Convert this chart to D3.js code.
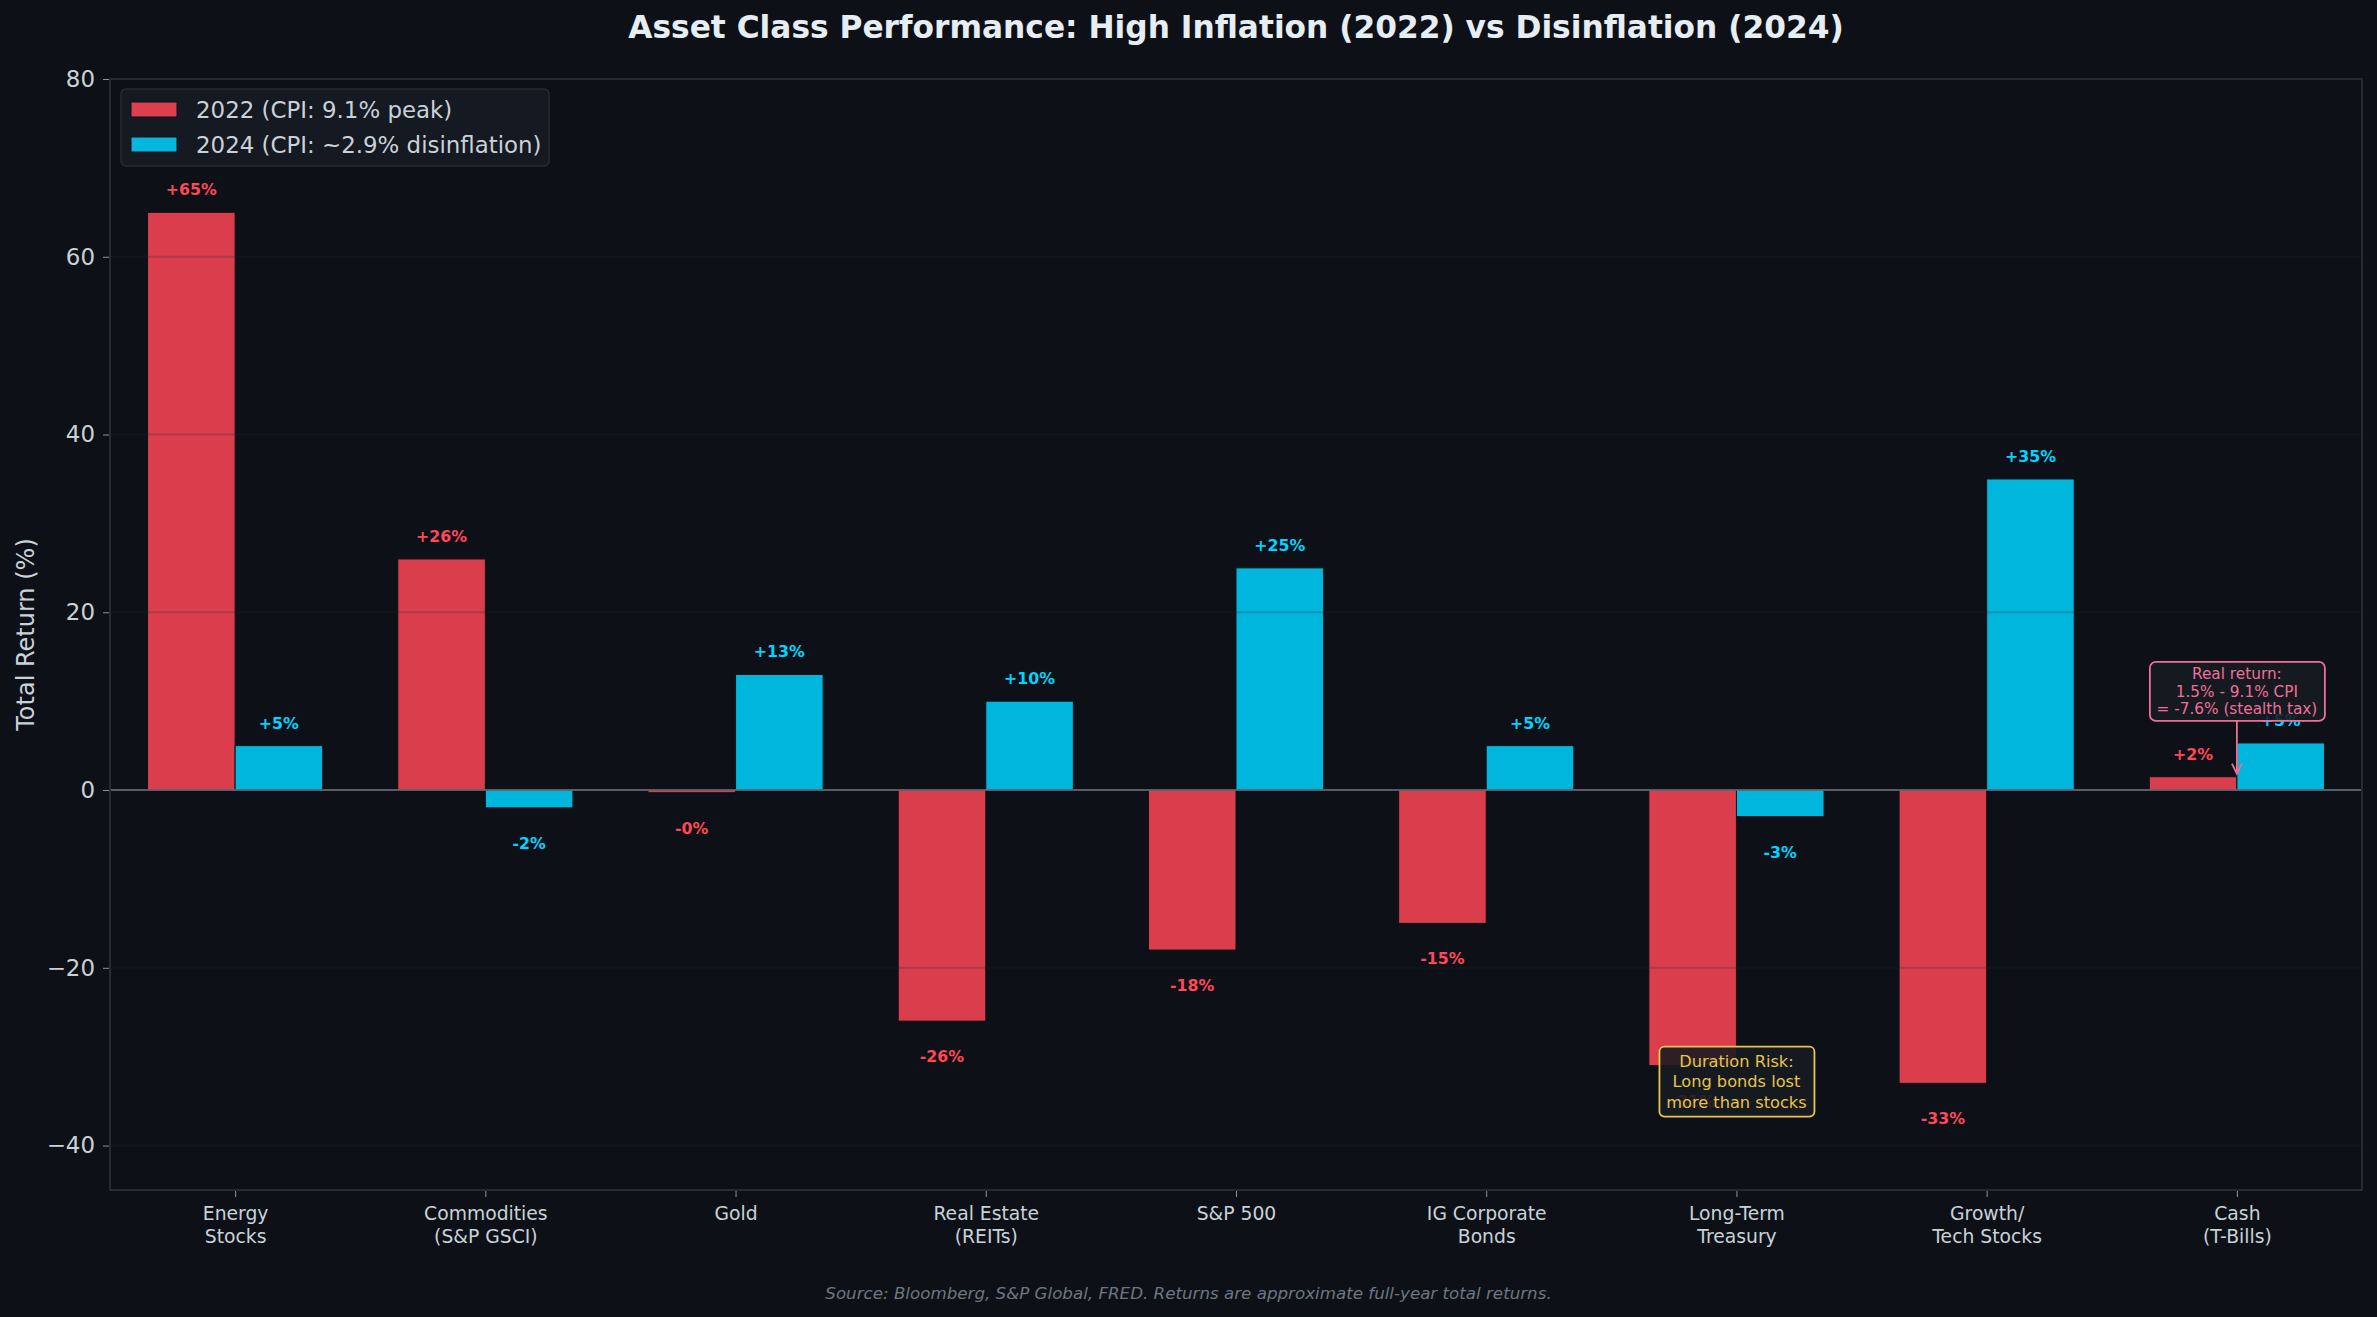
<!DOCTYPE html>
<html>
<head>
<meta charset="utf-8">
<script src="https://cdn.jsdelivr.net/npm/d3@7"></script>
<style>
  html, body { margin: 0; padding: 0; background: #0d1117; }
  svg { display: block; }
  text { font-family: "DejaVu Sans", sans-serif; }
</style>
</head>
<body>
<svg></svg>
<script>
// data
var categories = [
  ["Energy", "Stocks"],
  ["Commodities", "(S&P GSCI)"],
  ["Gold"],
  ["Real Estate", "(REITs)"],
  ["S&P 500"],
  ["IG Corporate", "Bonds"],
  ["Long-Term", "Treasury"],
  ["Growth/", "Tech Stocks"],
  ["Cash", "(T-Bills)"]
];
var returns2022 = [65, 26, -0.3, -26, -18, -15, -31, -33, 1.5];
var returns2024 = [5, -2, 13, 10, 25, 5, -3, 35, 5.3];
var seriesNames = ["2022 (CPI: 9.1% peak)", "2024 (CPI: ~2.9% disinflation)"];
var yTicks = [-40, -20, 0, 20, 40, 60, 80];

var colors = ["#ff4757", "#00d4ff"];

// set the dimensions and margins of the graph
var W = 2377, H = 1317;
var margin = {top: 79, right: 15, bottom: 127, left: 110},
    width = W - margin.left - margin.right,
    height = H - margin.top - margin.bottom;

var svg = d3.select("svg")
    .attr("width", W)
    .attr("height", H);

svg.append("rect").attr("width", W).attr("height", H).attr("fill", "#0d1117");

var g = svg.append("g")
    .attr("transform", "translate(" + margin.left + "," + margin.top + ")");

var x = d3.scaleLinear().domain([-0.5, 8.5]).range([0, width]);
var y = d3.scaleLinear().domain([-45, 80]).range([height, 0]);
var barW = x(0.35) - x(0);

// bars
var series = [returns2022, returns2024];
series.forEach(function(vals, s) {
    g.append("g").selectAll("rect")
        .data(vals)
        .enter()
        .append("rect")
        .attr("x", function(d, i) { return s === 0 ? x(i - 0.35) : x(i); })
        .attr("width", barW)
        .attr("y", function(d) { return y(Math.max(0, d)); })
        .attr("height", function(d) { return Math.abs(y(d) - y(0)); })
        .attr("fill", colors[s])
        .attr("fill-opacity", 0.85)
        .attr("stroke", "#0d1117")
        .attr("stroke-width", 1);
});

// grid (drawn over the bars, very faint)
g.append("g").selectAll("line")
    .data(yTicks)
    .enter()
    .append("line")
    .attr("x1", 0).attr("x2", width)
    .attr("y1", function(d) { return y(d); })
    .attr("y2", function(d) { return y(d); })
    .attr("stroke", "#21262d")
    .attr("stroke-opacity", 0.22)
    .attr("stroke-width", 2);

// zero line
g.append("line")
    .attr("x1", 0).attr("x2", width)
    .attr("y1", y(0)).attr("y2", y(0))
    .attr("stroke", "#6e7681")
    .attr("stroke-width", 1.5);

// value labels
function fmt(v) { return (v >= 0 ? "+" : "-") + Math.abs(v).toFixed(0) + "%"; }
series.forEach(function(vals, s) {
    g.append("g").selectAll("text")
        .data(vals)
        .enter()
        .append("text")
        .attr("x", function(d, i) { return s === 0 ? x(i - 0.175) : x(i + 0.175); })
        .attr("y", function(d) { return d >= 0 ? y(d) - 17 : y(d) + 41; })
        .attr("text-anchor", "middle")
        .attr("font-size", 15.8)
        .attr("font-weight", "bold")
        .attr("fill", colors[s])
        .text(fmt);
});

// axes
var yAxis = g.append("g")
    .call(d3.axisLeft(y).tickValues(yTicks).tickSize(7).tickPadding(8));
yAxis.select(".domain").remove();
yAxis.selectAll("line").attr("stroke", "#8b949e");
yAxis.selectAll("text").attr("font-size", 22.9).attr("fill", "#c9d1d9")
    .attr("font-family", "DejaVu Sans");

var xAxis = g.append("g")
    .attr("transform", "translate(0," + height + ")")
    .call(d3.axisBottom(x).tickValues(d3.range(categories.length)).tickSize(7).tickFormat(""));
xAxis.select(".domain").remove();
xAxis.selectAll("line").attr("stroke", "#8b949e");
xAxis.selectAll(".tick").each(function(d) {
    var t = d3.select(this).append("text")
        .attr("text-anchor", "middle")
        .attr("font-size", 18.75)
        .attr("fill", "#c9d1d9");
    categories[d].forEach(function(line, k) {
        t.append("tspan").attr("x", 0).attr("y", 30 + k * 22.5).text(line);
    });
});

// spines
g.append("rect")
    .attr("width", width).attr("height", height)
    .attr("fill", "none")
    .attr("stroke", "#262b33")
    .attr("stroke-width", 2);

// legend
var leg = svg.append("g").attr("transform", "translate(121,89)");
leg.append("rect")
    .attr("width", 428).attr("height", 77).attr("rx", 5)
    .attr("fill", "#161b22").attr("fill-opacity", 0.9)
    .attr("stroke", "#262b33").attr("stroke-width", 1.5);
seriesNames.forEach(function(name, s) {
    leg.append("rect")
        .attr("x", 10).attr("y", 13 + s * 35)
        .attr("width", 46).attr("height", 15)
        .attr("fill", colors[s]).attr("fill-opacity", 0.85)
        .attr("stroke", "#0d1117");
    leg.append("text")
        .attr("x", 75).attr("y", 29 + s * 35)
        .attr("font-size", 22.9)
        .attr("fill", "#c9d1d9")
        .text(name);
});

// annotation: duration risk
var durLines = ["Duration Risk:", "Long bonds lost", "more than stocks"];
var dur = g.append("g").attr("transform", "translate(" + x(6) + "," + y(-32.8) + ")");
dur.append("rect")
    .attr("x", -77).attr("y", -35).attr("width", 155).attr("height", 70).attr("rx", 5)
    .attr("fill", "#161b22").attr("fill-opacity", 0.88)
    .attr("stroke", "#e8c44a").attr("stroke-width", 1.8);
dur.selectAll("text").data(durLines).enter().append("text")
    .attr("text-anchor", "middle")
    .attr("y", function(d, i) { return -21 + 6 + i * 20.5; })
    .attr("font-size", 16.2)
    .attr("fill", "#e8c44a")
    .text(function(d) { return d; });

// annotation: real return on cash
var realLines = ["Real return:", "1.5% - 9.1% CPI", "= -7.6% (stealth tax)"];
var pink = "#f06e9a";
var cx = x(8), boxCy = y(11.1);
g.append("line")
    .attr("x1", cx).attr("x2", cx)
    .attr("y1", boxCy + 29).attr("y2", y(returns2022[8]) - 3)
    .attr("stroke", pink).attr("stroke-width", 1.8);
g.append("path")
    .attr("d", "M" + (cx - 5) + "," + (y(returns2022[8]) - 13) + "L" + cx + "," + (y(returns2022[8]) - 3) + "L" + (cx + 5) + "," + (y(returns2022[8]) - 13))
    .attr("fill", "none").attr("stroke", pink).attr("stroke-width", 1.8);
var rr = g.append("g").attr("transform", "translate(" + cx + "," + boxCy + ")");
rr.append("rect")
    .attr("x", -87).attr("y", -29.5).attr("width", 175).attr("height", 59).attr("rx", 6)
    .attr("fill", "#161b22").attr("fill-opacity", 0.88)
    .attr("stroke", pink).attr("stroke-width", 1.8);
rr.selectAll("text").data(realLines).enter().append("text")
    .attr("text-anchor", "middle")
    .attr("y", function(d, i) { return -17.5 + 5.5 + i * 17.5; })
    .attr("font-size", 15.3)
    .attr("fill", pink)
    .text(function(d) { return d; });

// y label
svg.append("text")
    .attr("transform", "translate(34," + (margin.top + height / 2) + ") rotate(-90)")
    .attr("text-anchor", "middle")
    .attr("font-size", 24)
    .attr("fill", "#c9d1d9")
    .text("Total Return (%)");

// title
svg.append("text")
    .attr("x", margin.left + width / 2).attr("y", 38)
    .attr("text-anchor", "middle")
    .attr("font-size", 31.25)
    .attr("font-weight", "bold")
    .attr("fill", "#e6edf3")
    .text("Asset Class Performance: High Inflation (2022) vs Disinflation (2024)");

// footer
svg.append("text")
    .attr("x", W / 2).attr("y", 1299)
    .attr("text-anchor", "middle")
    .attr("font-size", 16.7)
    .attr("font-style", "italic")
    .attr("fill", "#6e7681")
    .text("Source: Bloomberg, S&P Global, FRED. Returns are approximate full-year total returns.");
</script>
</body>
</html>
